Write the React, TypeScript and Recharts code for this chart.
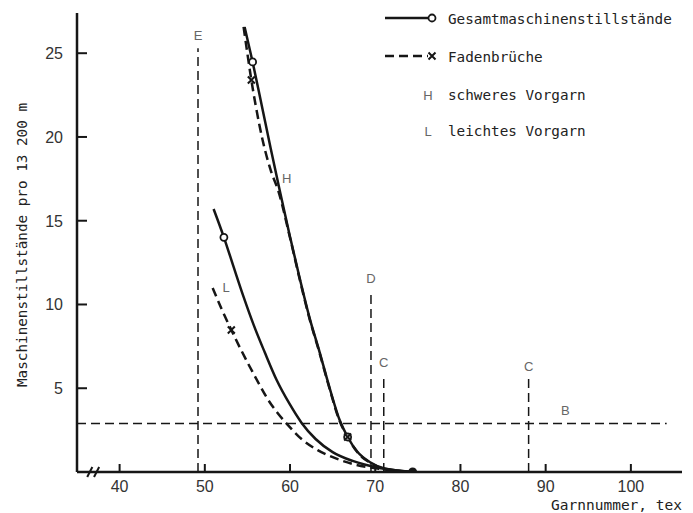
import React from 'react'
import { ComposedChart, Line, XAxis, YAxis, ReferenceLine, ReferenceDot, Legend } from 'recharts'

// tex on x, stops per 13 200 m on y
const xTicks = [40, 50, 60, 70, 80, 90, 100]
const yTicks = [5, 10, 15, 20, 25]

// H = schweres Vorgarn, L = leichtes Vorgarn
const heavyTotal = [
  { x: 54.67, y: 26.57 }, { x: 55.61, y: 24.48 }, { x: 56.67, y: 21.91 }, { x: 57.72, y: 19.34 },
  { x: 58.78, y: 16.84 }, { x: 59.95, y: 14.15 }, { x: 61.13, y: 11.58 }, { x: 62.3, y: 9.19 },
  { x: 63.47, y: 7.16 }, { x: 64.65, y: 5.01 }, { x: 65.82, y: 3.1 }, { x: 66.76, y: 2.09 },
  { x: 67.93, y: 1.19 }, { x: 69.34, y: 0.6 }, { x: 71.1, y: 0.21 }, { x: 74.39, y: 0 },
]
const heavyBreaks = [
  { x: 54.55, y: 26.57 }, { x: 55.02, y: 24.9 }, { x: 55.46, y: 23.4 }, { x: 55.96, y: 21.91 },
  { x: 56.78, y: 19.82 }, { x: 57.72, y: 18.03 }, { x: 58.66, y: 16.72 }, { x: 59.95, y: 14.09 },
  { x: 61.13, y: 11.52 }, { x: 62.3, y: 9.13 }, { x: 63.47, y: 7.1 }, { x: 64.65, y: 4.96 },
  { x: 65.82, y: 3.04 }, { x: 66.76, y: 2.09 }, { x: 67.93, y: 1.16 }, { x: 69.34, y: 0.57 },
  { x: 71.1, y: 0.18 }, { x: 74.39, y: 0 },
]
const lightTotal = [
  { x: 51.03, y: 15.7 }, { x: 52.24, y: 14.01 }, { x: 53.38, y: 12.24 }, { x: 54.55, y: 10.45 },
  { x: 55.73, y: 8.78 }, { x: 57.02, y: 7.16 }, { x: 58.43, y: 5.49 }, { x: 59.95, y: 4.06 },
  { x: 61.36, y: 2.93 }, { x: 63.0, y: 1.97 }, { x: 65.0, y: 1.19 }, { x: 67.35, y: 0.66 },
  { x: 70.52, y: 0.24 }, { x: 74.39, y: 0 },
]
const lightBreaks = [
  { x: 50.92, y: 10.99 }, { x: 51.97, y: 9.73 }, { x: 53.11, y: 8.48 }, { x: 54.2, y: 7.34 },
  { x: 55.26, y: 6.3 }, { x: 56.31, y: 5.31 }, { x: 57.37, y: 4.36 }, { x: 58.54, y: 3.52 },
  { x: 59.84, y: 2.75 }, { x: 61.48, y: 1.91 }, { x: 63.24, y: 1.31 }, { x: 65.23, y: 0.84 },
  { x: 67.58, y: 0.45 }, { x: 70.52, y: 0.18 }, { x: 74.39, y: 0 },
]
const totalMarks = [{ x: 55.61, y: 24.48 }, { x: 66.76, y: 2.09 }, { x: 52.24, y: 14.01 }]
const breakMarks = [{ x: 55.46, y: 23.4 }, { x: 66.76, y: 2.09 }, { x: 53.11, y: 8.48 }]
const endPoint = [{ x: 74.39, y: 0 }]

// limit lines
const verticalLimits = [
  { name: 'E', x: 49.2, top: 25.3 },
  { name: 'D', x: 69.5, top: 10.8 },
  { name: 'C', x: 71.0, top: 5.8 },
  { name: 'C', x: 88.0, top: 5.55 },
]
const limitB = { name: 'B', y: 2.9, from: 35, to: 104.2, labelX: 92.3, labelY: 3.7 }
const curveLabels = [
  { name: 'H', x: 59.6, y: 17.5 },
  { name: 'L', x: 52.5, y: 11.0 },
]

const INK = '#161616'
const MONO = '"DejaVu Sans Mono", "Liberation Mono", monospace'
const SANS = '"Liberation Sans", Arial, sans-serif'

const XTick = ({ x, y, payload }: any) => (
  <g>
    <line x1={x} y1={y} x2={x} y2={y - 8} stroke={INK} strokeWidth={2} />
    <text x={x} y={y + 20} textAnchor="middle" fontSize={16} fill="#333" fontFamily={SANS}>
      {payload.value}
    </text>
  </g>
)

const YTick = ({ x, y, payload }: any) => (
  <g>
    <line x1={x} y1={y} x2={x + 10} y2={y} stroke={INK} strokeWidth={2} />
    <text x={x - 14} y={y + 6} textAnchor="end" fontSize={16} fill="#333" fontFamily={SANS}>
      {payload.value}
    </text>
  </g>
)

const XTitle = () => (
  <text x={682} y={510} textAnchor="end" fontSize={14.5} fontFamily={MONO} fill="#222">
    Garnnummer, tex
  </text>
)

const YTitle = () => (
  <text x={22} y={245} transform="rotate(-90 22 245)" textAnchor="middle" dominantBaseline="central"
    fontSize={14.3} fontFamily={MONO} fill="#222">
    Maschinenstillstände pro 13 200 m
  </text>
)

const circleDot = (p: any) => (
  <circle key={p.key} cx={p.cx} cy={p.cy} r={3.5} fill="#fff" stroke={INK} strokeWidth={1.8} />
)
const crossDot = (p: any) => (
  <path key={p.key} d={`M${p.cx - 3.5},${p.cy - 3.5}L${p.cx + 3.5},${p.cy + 3.5}M${p.cx - 3.5},${p.cy + 3.5}L${p.cx + 3.5},${p.cy - 3.5}`}
    stroke={INK} strokeWidth={2} />
)
const filledDot = (p: any) => <circle key={p.key} cx={p.cx} cy={p.cy} r={4.5} fill={INK} />

const LegendBox = () => (
  <svg width={313} height={145} style={{ display: 'block' }}>
    <line x1={5} y1={18} x2={48} y2={18} stroke={INK} strokeWidth={2.5} />
    <circle cx={52} cy={18} r={3.5} fill="#fff" stroke={INK} strokeWidth={1.8} />
    <text x={68} y={24} fontSize={14.3} fontFamily={MONO} fill="#222">Gesamtmaschinenstillstände</text>
    <line x1={5} y1={56} x2={48} y2={56} stroke={INK} strokeWidth={2.5} strokeDasharray="9 5" />
    <path d="M48.5,52.5L55.5,59.5M48.5,59.5L55.5,52.5" stroke={INK} strokeWidth={2} />
    <text x={68} y={62} fontSize={14.3} fontFamily={MONO} fill="#222">Fadenbrüche</text>
    <text x={48} y={100} fontSize={13} fontFamily={SANS} fill="#666" textAnchor="middle">H</text>
    <text x={68} y={100} fontSize={14.3} fontFamily={MONO} fill="#222">schweres Vorgarn</text>
    <text x={48} y={136} fontSize={13} fontFamily={SANS} fill="#666" textAnchor="middle">L</text>
    <text x={68} y={136} fontSize={14.3} fontFamily={MONO} fill="#222">leichtes Vorgarn</text>
  </svg>
)

const letter = (value: string, position: any, offset = 8) => ({
  value, position, offset, fill: '#666', fontSize: 13, fontFamily: SANS,
})

export default function App() {
  return (
    <div style={{ position: 'absolute', left: 0, top: 0, background: '#fff' }}>
      <ComposedChart width={693} height={513} margin={{ top: 13, right: 11, left: 0, bottom: 0 }}>
        <XAxis
          dataKey="x"
          type="number"
          domain={[35, 106]}
          ticks={xTicks}
          allowDataOverflow
          height={41}
          tickSize={0}
          tickMargin={0}
          tickLine={false}
          tick={<XTick />}
          axisLine={{ stroke: INK, strokeWidth: 2.5 }}
          label={<XTitle />}
        />
        <YAxis
          type="number"
          domain={[0, 27.4]}
          ticks={yTicks}
          allowDataOverflow
          width={77}
          tickSize={0}
          tickMargin={0}
          tickLine={false}
          tick={<YTick />}
          axisLine={{ stroke: INK, strokeWidth: 2.5 }}
          label={<YTitle />}
        />
        <Legend verticalAlign="middle" align="center" content={<LegendBox />}
          wrapperStyle={{ left: 380, top: 0, width: 313, height: 145 }} />

        {/* axis break */}
        <ReferenceLine segment={[{ x: 36.2, y: -0.3 }, { x: 36.8, y: 0.3 }]} stroke={INK} strokeWidth={2} ifOverflow="visible" />
        <ReferenceLine segment={[{ x: 37.0, y: -0.3 }, { x: 37.6, y: 0.3 }]} stroke={INK} strokeWidth={2} ifOverflow="visible" />

        {verticalLimits.map((l, i) => (
          <ReferenceLine key={'v' + i} segment={[{ x: l.x, y: 0 }, { x: l.x, y: l.top }]}
            stroke={INK} strokeWidth={1.5} strokeDasharray="9 5" label={letter(l.name, 'top')} />
        ))}
        <ReferenceLine segment={[{ x: limitB.from, y: limitB.y }, { x: limitB.to, y: limitB.y }]}
          stroke={INK} strokeWidth={1.5} strokeDasharray="9 5" />
        <ReferenceDot x={limitB.labelX} y={limitB.labelY} r={0} stroke="none" label={letter(limitB.name, 'center', 0)} />
        {curveLabels.map((c, i) => (
          <ReferenceDot key={'c' + i} x={c.x} y={c.y} r={0} stroke="none" label={letter(c.name, 'center', 0)} />
        ))}

        <Line data={heavyTotal} dataKey="y" type="monotone" stroke={INK} strokeWidth={2.5} dot={false} isAnimationActive={false} />
        <Line data={heavyBreaks} dataKey="y" type="monotone" stroke={INK} strokeWidth={2.5} strokeDasharray="9 5" dot={false} isAnimationActive={false} />
        <Line data={lightTotal} dataKey="y" type="monotone" stroke={INK} strokeWidth={2.5} dot={false} isAnimationActive={false} />
        <Line data={lightBreaks} dataKey="y" type="monotone" stroke={INK} strokeWidth={2.5} strokeDasharray="9 5" dot={false} isAnimationActive={false} />
        <Line data={totalMarks} dataKey="y" stroke="none" dot={circleDot} isAnimationActive={false} />
        <Line data={breakMarks} dataKey="y" stroke="none" dot={crossDot} isAnimationActive={false} />
        <Line data={endPoint} dataKey="y" stroke="none" dot={filledDot} isAnimationActive={false} />
      </ComposedChart>
    </div>
  )
}
